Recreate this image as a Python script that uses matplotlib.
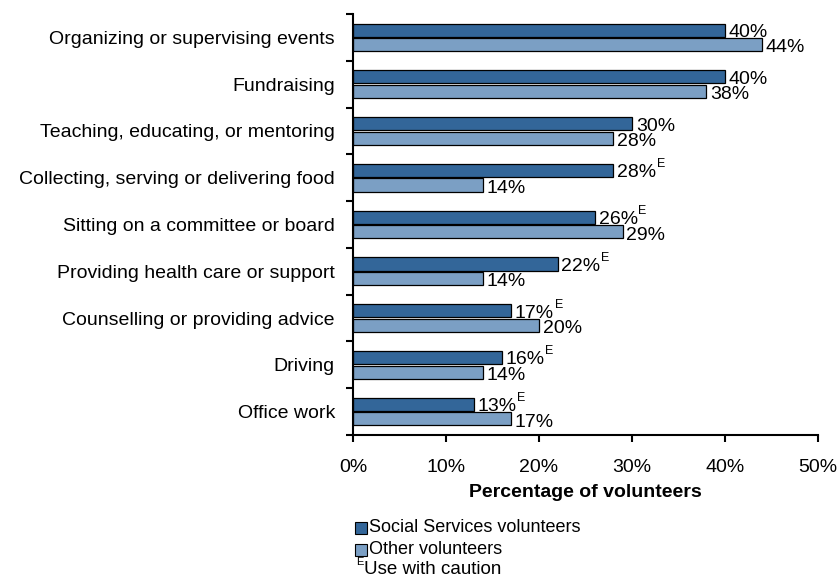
import numpy as np
import matplotlib
matplotlib.use("Agg")
import matplotlib.pyplot as plt
from matplotlib.patches import Rectangle

plt.rcParams["font.family"] = ["Liberation Sans", "DejaVu Sans"]

# Dados
categories = [
    "Organizing or supervising events",
    "Fundraising",
    "Teaching, educating, or mentoring",
    "Collecting, serving or delivering food",
    "Sitting on a committee or board",
    "Providing health care or support",
    "Counselling or providing advice",
    "Driving",
    "Office work",
]
social = [40, 40, 30, 28, 26, 22, 17, 16, 13]
other = [44, 38, 28, 14, 29, 14, 20, 14, 17]
social_caution = [False, False, False, True, True, True, True, True, True]
x_ticks = [0, 10, 20, 30, 40, 50]

DARK = "#336699"
LIGHT = "#7b9fc4"
FS = 14

fig = plt.figure(figsize=(8.39, 5.80), dpi=100)
ax = fig.add_axes([353 / 839, 1 - 435 / 580, (818 - 353) / 839, (435 - 14) / 580])

n = len(categories)
y = np.arange(n)
h = 0.28
gap = 0.015

ax.barh(y - h / 2 - gap, social, height=h, color=DARK, edgecolor="black", linewidth=0.9)
ax.barh(y + h / 2 + gap, other, height=h, color=LIGHT, edgecolor="black", linewidth=0.9)

for i in range(n):
    lbl = ax.text(social[i] + 0.4, y[i] - h / 2 - gap + 0.05, f"{social[i]}%",
                  va="center", ha="left", fontsize=FS)
    if social_caution[i]:
        ax.annotate("E", xy=(1, 1), xycoords=lbl, xytext=(0.5, 0),
                    textcoords="offset points", fontsize=9, va="center", ha="left")
    ax.text(other[i] + 0.4, y[i] + h / 2 + gap + 0.07, f"{other[i]}%",
            va="center", ha="left", fontsize=FS)

ax.set_ylim(n - 0.5, -0.5)
ax.set_xlim(0, 50)
ax.set_xticks(x_ticks)
ax.set_xticklabels([f"{v}%" for v in x_ticks], fontsize=FS)
ax.tick_params(axis="x", length=5, width=1.5, pad=12)

ax.set_yticks(np.arange(-0.5, n, 1.0))
ax.set_yticklabels([])
ax.set_yticks(y, minor=True)
ax.set_yticklabels(categories, minor=True, fontsize=FS)
ax.tick_params(axis="y", which="major", length=5, width=1.5)
ax.tick_params(axis="y", which="minor", length=0, pad=13)

for s in ["top", "right"]:
    ax.spines[s].set_visible(False)
for s in ["left", "bottom"]:
    ax.spines[s].set_linewidth(1.5)

ax.set_xlabel("Percentage of volunteers", fontsize=FS, fontweight="bold", labelpad=6)

# Legenda manual
for yy, col, txt in [(528, DARK, "Social Services volunteers"), (550, LIGHT, "Other volunteers")]:
    fig.patches.append(Rectangle((355 / 839, 1 - (yy + 6) / 580), 12 / 839, 12 / 580,
                                 transform=fig.transFigure, facecolor=col,
                                 edgecolor="black", linewidth=0.8))
    fig.text(369 / 839, 1 - yy / 580, txt, fontsize=13, va="center", ha="left")
fig.text(356 / 839, 1 - 562 / 580, "E", fontsize=8, va="center", ha="left")
fig.text(364 / 839, 1 - 570 / 580, "Use with caution", fontsize=13.5, va="center", ha="left")

fig.savefig("out.png", dpi=100)
